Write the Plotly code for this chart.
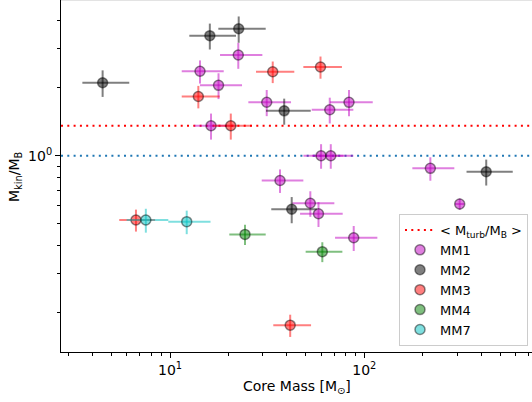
import numpy as np
import plotly.graph_objects as go

# ---------------- data ----------------
series_names = ["MM1", "MM2", "MM3", "MM4", "MM7"]
series_colors = ["191,0,191", "0,0,0", "255,0,0", "0,128,0", "0,191,191"]

mm1_mass = [14.27, 17.77, 22.46, 16.26, 31.46, 66.4, 83.4, 59.9, 67.2, 218.7, 36.83, 52.74, 58.1, 309.7, 88.2]
mm1_ratio = [2.372, 2.055, 2.803, 1.359, 1.729, 1.601, 1.727, 1.0, 1.0, 0.879, 0.776, 0.615, 0.552, 0.610, 0.432]
mm1_mass_errm = [2.78, 3.5, 4.37, 2.92, 6.16, 12.8, 16.8, 11.3, 13.4, 42.0, 7.18, 10.14, 11.4, 16.7, 17.5]
mm1_mass_errp = [4.63, 5.71, 7.41, 5.24, 10.5, 21.4, 27.1, 18.2, 20.6, 71.9, 11.72, 17.36, 19.3, 17.3, 28.5]
mm1_ratio_err = [0.28, 0.27, 0.37, 0.18, 0.23, 0.21, 0.23, 0.125, 0.125, 0.105, 0.093, 0.08, 0.07, 0.036, 0.055]

mm2_mass = [4.50, 16.03, 22.57, 38.7, 42.3, 424.1]
mm2_ratio = [2.11, 3.415, 3.667, 1.583, 0.578, 0.849]
mm2_mass_errm = [0.96, 3.46, 4.84, 7.5, 9.1, 88.3]
mm2_mass_errp = [1.67, 5.83, 8.51, 14.3, 14.6, 156.5]
mm2_ratio_err = [0.285, 0.45, 0.49, 0.21, 0.077, 0.112]

mm3_mass = [13.99, 20.55, 33.78, 59.5, 6.68, 41.55]
mm3_ratio = [1.833, 1.359, 2.362, 2.479, 0.518, 0.1765]
mm3_mass_errm = [2.5, 3.84, 6.07, 10.95, 1.2, 7.55]
mm3_mass_errp = [4.04, 5.79, 9.84, 17.2, 1.7, 11.65]
mm3_ratio_err = [0.21, 0.18, 0.26, 0.28, 0.058, 0.02]

mm4_mass = [24.32, 60.8]
mm4_ratio = [0.447, 0.3745]
mm4_mass_errm = [4.13, 10.9]
mm4_mass_errp = [6.76, 16.3]
mm4_ratio_err = [0.046, 0.038]

mm7_mass = [7.51, 12.19]
mm7_ratio = [0.518, 0.509]
mm7_mass_errm = [1.53, 2.39]
mm7_mass_errp = [2.29, 3.97]
mm7_ratio_err = [0.063, 0.061]

mean_turb_ratio = 1.359
unity_ratio = 1.0

x_range_log = [0.439, 2.863]
y_range_log = [-0.8724, 0.692]

x_major = [10, 100]
x_major_text = ["10<sup>1</sup>", "10<sup>2</sup>"]
x_minor = [3, 4, 5, 6, 7, 8, 9, 20, 30, 40, 50, 60, 70, 80, 90, 200, 300, 400, 500, 600, 700]
y_major = [1]
y_major_text = ["10<sup>0</sup>"]
y_minor = [0.2, 0.3, 0.4, 0.5, 0.6, 0.7, 0.8, 0.9, 2, 3, 4]

series = [
    (mm1_mass, mm1_ratio, mm1_mass_errm, mm1_mass_errp, mm1_ratio_err),
    (mm2_mass, mm2_ratio, mm2_mass_errm, mm2_mass_errp, mm2_ratio_err),
    (mm3_mass, mm3_ratio, mm3_mass_errm, mm3_mass_errp, mm3_ratio_err),
    (mm4_mass, mm4_ratio, mm4_mass_errm, mm4_mass_errp, mm4_ratio_err),
    (mm7_mass, mm7_ratio, mm7_mass_errm, mm7_mass_errp, mm7_ratio_err),
]

FONT = "DejaVu Sans"

fig = go.Figure()

x_span = [10 ** x_range_log[0], 10 ** x_range_log[1]]

# mean turbulent line (legend entry)
fig.add_trace(go.Scatter(
    x=x_span, y=[mean_turb_ratio, mean_turb_ratio], mode="lines",
    line=dict(color="red", width=2, dash="2px,4.3px"),
    name="&lt; M<sub>turb</sub>/M<sub>B</sub> &gt;", showlegend=True))
fig.add_trace(go.Scatter(
    x=x_span, y=[unity_ratio, unity_ratio], mode="lines",
    line=dict(color="#1f77b4", width=2, dash="2px,4.3px"),
    showlegend=False, hoverinfo="skip"))

for name, col, (xs, ys, xm, xp, ye) in zip(series_names, series_colors, series):
    fig.add_trace(go.Scatter(
        x=xs, y=ys, mode="markers", name=name,
        marker=dict(size=10, color=f"rgba({col},0.5)",
                    line=dict(color="rgba(0,0,0,0.45)", width=1.5)),
        error_x=dict(type="data", symmetric=False, array=xp, arrayminus=xm,
                     color=f"rgba({col},0.5)", thickness=2, width=0),
        error_y=dict(type="data", array=ye,
                     color=f"rgba({col},0.5)", thickness=2, width=0),
    ))

axis_common = dict(
    showgrid=False, zeroline=False, showline=True, linecolor="black", linewidth=1.1,
    ticks="outside", ticklen=5, tickwidth=1.1, tickcolor="black",
    tickfont=dict(family=FONT, size=14, color="black"),
)

fig.update_xaxes(type="log", range=x_range_log, tickmode="array",
                 tickvals=x_major, ticktext=x_major_text,
                 minor=dict(ticks="outside", ticklen=3, tickwidth=0.8, tickcolor="black",
                            tickvals=x_minor, showgrid=False),
                 **axis_common)
fig.update_yaxes(type="log", range=y_range_log, tickmode="array",
                 tickvals=y_major, ticktext=y_major_text,
                 minor=dict(ticks="outside", ticklen=3, tickwidth=0.8, tickcolor="black",
                            tickvals=y_minor, showgrid=False),
                 **axis_common)

fig.add_shape(type="line", xref="paper", yref="paper", x0=0, x1=1, y0=1, y1=1,
              line=dict(color="#c8c8c8", width=1))

fig.add_annotation(text="Core Mass [M<sub>⊙</sub>]", xref="paper", yref="paper",
                   x=0.5, y=-0.0994, yshift=0, showarrow=False, xanchor="center", yanchor="middle",
                   font=dict(family=FONT, size=14, color="black"))
fig.add_annotation(text="M<sub>kin</sub>/M<sub>B</sub>", xref="paper", yref="paper",
                   x=-0.0977, y=0.5, showarrow=False, textangle=-90,
                   xanchor="center", yanchor="middle",
                   font=dict(family=FONT, size=14, color="black"))

fig.update_layout(
    width=532, height=402,
    margin=dict(l=61, r=0, t=0, b=50),
    plot_bgcolor="white", paper_bgcolor="white",
    font=dict(family=FONT, size=14, color="black"),
    legend=dict(x=0.9915, y=0.017, xanchor="right", yanchor="bottom",
                bgcolor="rgba(255,255,255,0.8)", bordercolor="#cccccc", borderwidth=1,
                itemwidth=30, tracegroupgap=0,
                font=dict(family=FONT, size=13, color="black")),
    showlegend=True,
)

fig.write_html("out.html")
